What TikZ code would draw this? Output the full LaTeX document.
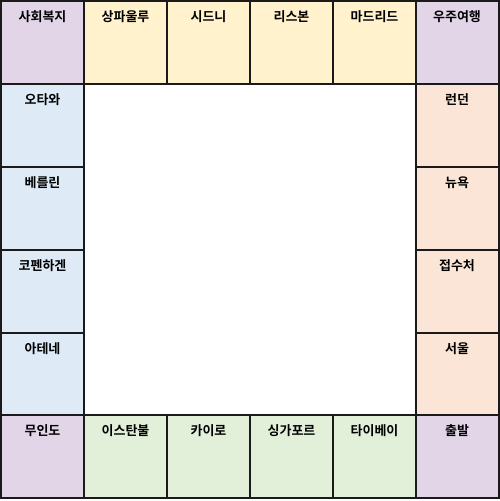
\documentclass[tikz,border=0pt]{standalone}
\usepackage{fontspec}
\newfontfamily\kr{Noto Sans CJK KR}[BoldFont={* Bold}]
\definecolor{cpur}{HTML}{E1D5E7}
\definecolor{cyel}{HTML}{FFF2CC}
\definecolor{cblu}{HTML}{DEEBF7}
\definecolor{cpea}{HTML}{FBE5D6}
\definecolor{cgre}{HTML}{E2F0D9}
\definecolor{cline}{HTML}{1A1A1A}
\begin{document}
\begin{tikzpicture}[x=1pt,y=-1pt,
  cell/.style={draw=cline, line width=2pt, minimum width=83pt, minimum height=83pt, inner sep=0pt, outer sep=0pt},
  lbl/.style={anchor=north, yshift=-9.5pt, inner sep=0pt, font=\kr\bfseries\fontsize{13pt}{15pt}\selectfont}]
\useasboundingbox (0,0) rectangle (500,501);
\fill[white] (0,0) rectangle (500,501);
% top row
\node[cell, fill=cpur, label={[lbl]north:사회복지}] (t0) at (42.5,42.5) {};
\node[cell, fill=cyel, label={[lbl]north:상파울루}] (t1) at (125.5,42.5) {};
\node[cell, fill=cyel, label={[lbl]north:시드니}] (t2) at (208.5,42.5) {};
\node[cell, fill=cyel, label={[lbl]north:리스본}] (t3) at (291.5,42.5) {};
\node[cell, fill=cyel, label={[lbl]north:마드리드}] (t4) at (374.5,42.5) {};
\node[cell, fill=cpur, label={[lbl]north:우주여행}] (t5) at (457,42.5) {};
% left column
\node[cell, fill=cblu, label={[lbl]north:오타와}] (l1) at (42.5,125.5) {};
\node[cell, fill=cblu, label={[lbl]north:베를린}] (l2) at (42.5,208.5) {};
\node[cell, fill=cblu, label={[lbl]north:코펜하겐}] (l3) at (42.5,291.5) {};
\node[cell, fill=cblu, label={[lbl]north:아테네}] (l4) at (42.5,374) {};
% right column
\node[cell, fill=cpea, label={[lbl]north:런던}] (r1) at (457,125.5) {};
\node[cell, fill=cpea, label={[lbl]north:뉴욕}] (r2) at (457,208.5) {};
\node[cell, fill=cpea, label={[lbl]north:접수처}] (r3) at (457,291.5) {};
\node[cell, fill=cpea, label={[lbl]north:서울}] (r4) at (457,374) {};
% bottom row
\node[cell, fill=cpur, label={[lbl]north:무인도}] (b0) at (42.5,456.5) {};
\node[cell, fill=cgre, label={[lbl]north:이스탄불}] (b1) at (125.5,456.5) {};
\node[cell, fill=cgre, label={[lbl]north:카이로}] (b2) at (208.5,456.5) {};
\node[cell, fill=cgre, label={[lbl]north:싱가포르}] (b3) at (291.5,456.5) {};
\node[cell, fill=cgre, label={[lbl]north:타이베이}] (b4) at (374.5,456.5) {};
\node[cell, fill=cpur, label={[lbl]north:출발}] (b5) at (457,456.5) {};
\end{tikzpicture}
\end{document}
